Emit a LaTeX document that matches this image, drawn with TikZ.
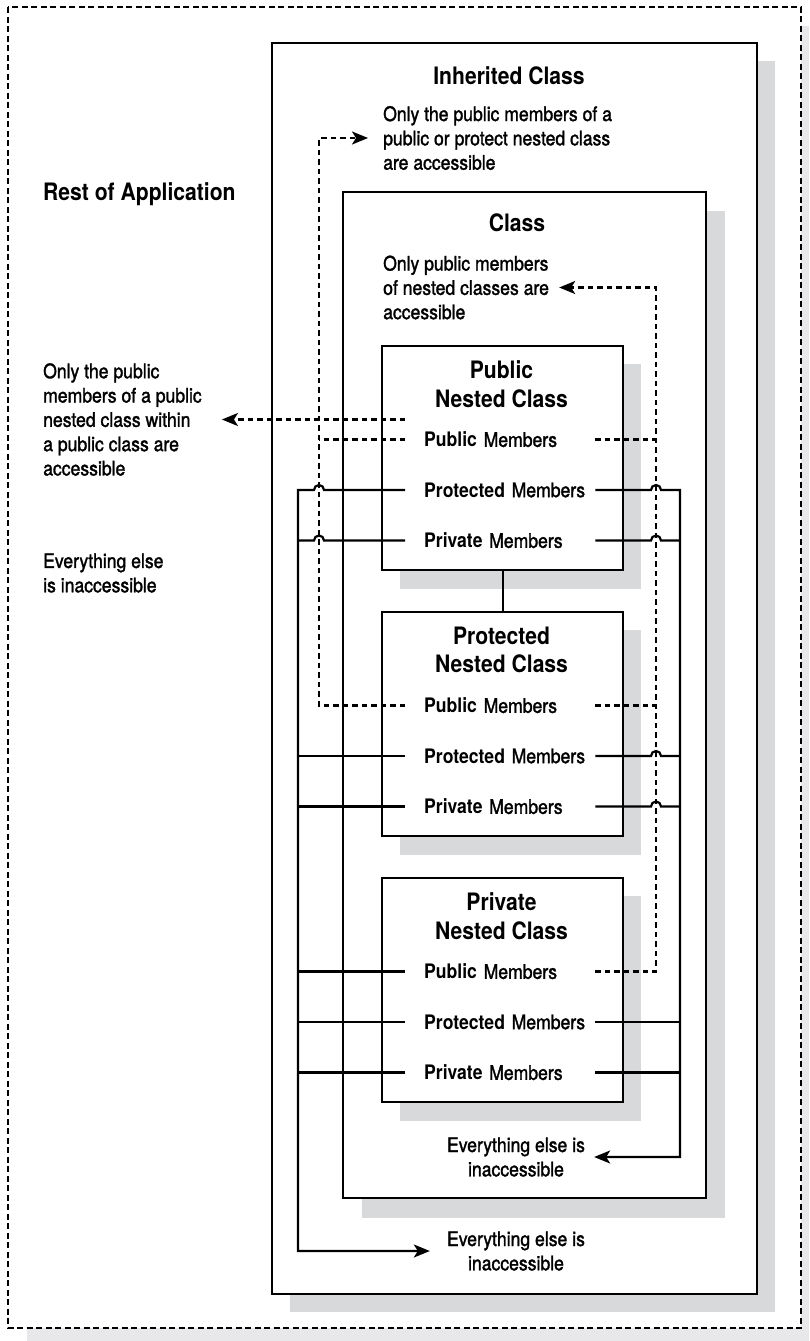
\documentclass[tikz,border=0pt]{standalone}
\usepackage{fontspec}
\setmainfont{TeX Gyre Heros}[FakeStretch=0.88,UprightFeatures={FakeBold=1.5}]
\usetikzlibrary{arrows.meta,calc}
\definecolor{shadowgray}{RGB}{216,217,219}
\definecolor{pageshadow}{RGB}{232,232,234}
\newcommand{\memb}[1]{\hspace*{19pt}\textbf{#1} Members}

\begin{document}
\begin{tikzpicture}[x=1pt,y=1pt,
		every node/.style={inner sep=0pt},
		txt/.style={font=\fontsize{20}{24.3}\selectfont,align=left},
		ttl/.style={font=\fontsize{24}{28.7}\selectfont\bfseries,align=center},
		memrow/.style={txt,anchor=west,text width=190pt},
		boxline/.style={draw,line width=2.2pt,fill=white},
		dropshade/.style={fill=shadowgray},
		solidlink/.style={line width=2.2pt},
		dotlink/.style={line width=2.2pt,dash pattern=on 5.5pt off 4pt},
		arr/.style={-{Stealth[length=16pt,width=13pt,inset=4pt]}}]
	\useasboundingbox (0,0) rectangle (809,-1341);
	\clip (0,0) rectangle (809,-1341);
	\fill[pageshadow] (27,-26) rectangle (830,-1360);
	\draw[line width=2.3pt,dash pattern=on 6pt off 3.5pt,fill=white] (8,-7) rectangle (801,-1328);
	\fill[dropshade] (290,-61) rectangle (775,-1312);
	\draw[boxline] (272,-43) rectangle (757,-1294);
	\fill[dropshade] (362,-211) rectangle (725,-1218);
	\draw[boxline] (343,-192) rectangle (706,-1198);
	\coordinate (L) at (298,0);
	\coordinate (Ld) at (319,0);
	\coordinate (Rd) at (656,0);
	\coordinate (R) at (680,0);

	\node[ttl,anchor=base west] (app) at (43,-200) {Rest of Application};
	\node[ttl,anchor=base] (inh) at (509,-84) {Inherited Class};
	\node[ttl,anchor=base] (cls) at (517,-231) {Class};
	\node[txt,anchor=west] (inhnote) at (383,-138) {Only the public members of a\\public or protect nested class\\are accessible};
	\node[txt,anchor=west] (clsnote) at (383,-287.5) {Only public members\\of nested classes are\\accessible};
	\node[txt,anchor=west] (appnote) at (43,-419.5) {Only the public\\members of a public\\nested class within\\a public class are\\accessible};
	\node[txt,anchor=west] (appelse) at (43,-573) {Everything else\\is inaccessible};
	\node[txt,align=center] (clselse) at (516,-1157) {Everything else is\\inaccessible};
	\node[txt,align=center] (inhelse) at (516,-1251) {Everything else is\\inaccessible};

	\foreach \kind/\n/\y in {Public/pub/345,Protected/prot/611,Private/priv/877}{
		\fill[dropshade] (400,-\y-19) rectangle (641,-\y-244);
		\node[boxline,minimum width=241pt,minimum height=224pt,anchor=north west] (\n-box) at (381,-\y) {};
		\node[ttl] (\n-title) at (501.5,-\y-39) {\kind\\Nested Class};
		\node[memrow] (\n-pub) at (405,-\y-94.5) {\memb{Public}};
		\node[memrow] (\n-prot) at (405,-\y-145) {\memb{Protected}};
		\node[memrow] (\n-priv) at (405,-\y-195.5) {\memb{Private}};
	}
	\draw[solidlink] (pub-box.south) -- (prot-box.north);

	\draw[solidlink,arr,shorten >=17pt] (pub-prot.west) -- ($(Ld |- pub-prot.west)+(5,0)$) arc[start angle=0,end angle=180,radius=5]
		-- (L |- pub-prot.west) -- (L |- inhelse.west) -- (inhelse.west);
	\draw[solidlink] (pub-priv.west) -- ($(Ld |- pub-priv.west)+(5,0)$) arc[start angle=0,end angle=180,radius=5] -- (L |- pub-priv.west);
	\foreach \n in {prot-prot,prot-priv,priv-pub,priv-prot,priv-priv}
		\draw[solidlink] (\n.west) -- (L |- \n.west);

	\draw[solidlink,arr,shorten >=9pt] (pub-prot.east) -- ($(Rd |- pub-prot.east)-(5,0)$) arc[start angle=180,end angle=0,radius=5]
		-- (R |- pub-prot.east) -- (R |- clselse.east) -- (clselse.east);
	\foreach \n in {pub-priv,prot-prot,prot-priv}
		\draw[solidlink] (\n.east) -- ($(Rd |- \n.east)-(5,0)$) arc[start angle=180,end angle=0,radius=5] -- (R |- \n.east);
	\foreach \n in {priv-prot,priv-priv}
		\draw[solidlink] (\n.east) -- (R |- \n.east);

	\draw[dotlink] (pub-pub.west) -- (Ld |- pub-pub.west);
	\draw[dotlink,arr,shorten >=15pt] (prot-pub.west) -- (Ld |- prot-pub.west) -- (Ld |- inhnote.west) -- (inhnote.west);
	\draw[dotlink,arr,shorten >=20pt] (appnote.east -| pub-pub.west) -- (appnote.east);
	\draw[dotlink] (pub-pub.east) -- (Rd |- pub-pub.east);
	\draw[dotlink] (prot-pub.east) -- (Rd |- prot-pub.east);
	\draw[dotlink,arr,shorten >=10pt] (priv-pub.east) -- (Rd |- priv-pub.east) -- (Rd |- clsnote.east) -- (clsnote.east);
\end{tikzpicture}
\end{document}
